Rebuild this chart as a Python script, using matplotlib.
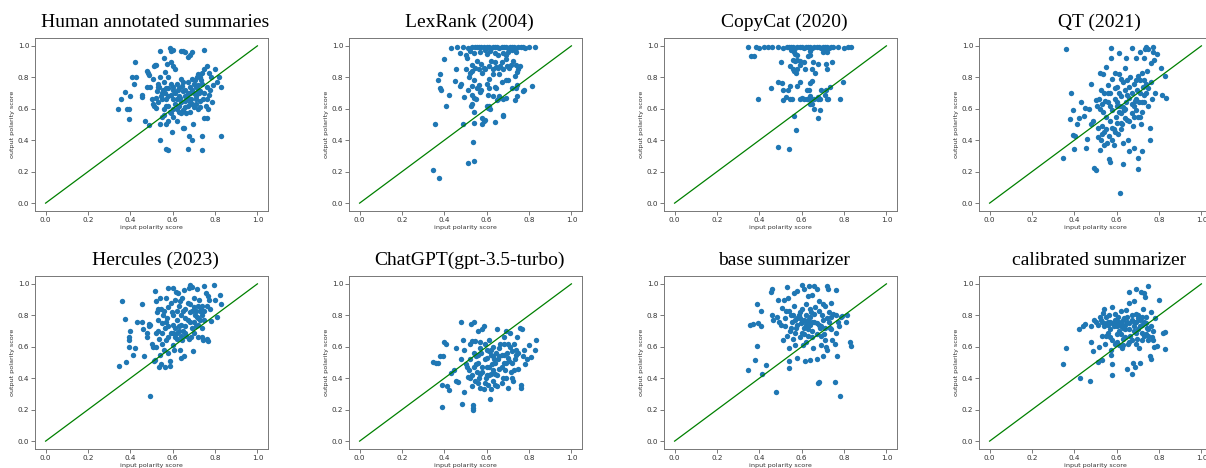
import matplotlib
matplotlib.use("Agg")
import matplotlib.pyplot as plt

# --- data: (input polarity, output polarity) -----------------------------------

TITLES = ["Human annotated summaries", "LexRank (2004)", "CopyCat (2020)", "QT (2021)",
          "Hercules (2023)", "ChatGPT(gpt-3.5-turbo)", "base summarizer", "calibrated summarizer"]

human_pts = [
    (0.343, 0.596), (0.357, 0.66), (0.373, 0.706), (0.383, 0.596), (0.394, 0.598), (0.394, 0.533),
    (0.398, 0.683), (0.406, 0.805), (0.417, 0.757), (0.420, 0.90), (0.428, 0.80), (0.457, 0.672),
    (0.457, 0.690), (0.468, 0.524), (0.486, 0.499), (0.48, 0.74), (0.48, 0.84), (0.485, 0.83),
    (0.49, 0.815), (0.495, 0.74), (0.50, 0.66), (0.505, 0.79), (0.51, 0.875), (0.515, 0.88),
    (0.52, 0.88), (0.505, 0.63), (0.51, 0.62), (0.52, 0.605), (0.525, 0.71), (0.53, 0.74),
    (0.535, 0.74), (0.53, 0.64), (0.54, 0.97), (0.54, 0.80), (0.54, 0.50), (0.54, 0.40),
    (0.545, 0.68), (0.55, 0.545), (0.55, 0.66), (0.555, 0.72), (0.56, 0.92), (0.56, 0.77),
    (0.565, 0.835), (0.565, 0.70), (0.57, 0.50), (0.57, 0.62), (0.57, 0.345), (0.575, 0.885),
    (0.58, 0.34), (0.58, 0.80), (0.58, 0.73), (0.58, 0.68), (0.585, 0.985), (0.585, 0.58),
    (0.59, 0.97), (0.59, 0.90), (0.59, 0.57), (0.595, 0.45), (0.60, 0.975), (0.60, 0.87),
    (0.60, 0.74), (0.60, 0.66), (0.60, 0.55), (0.61, 0.85), (0.61, 0.70), (0.62, 0.52),
    (0.62, 0.60), (0.625, 0.72), (0.63, 0.68), (0.635, 0.67), (0.64, 0.965), (0.64, 0.79),
    (0.645, 0.745), (0.65, 0.965), (0.65, 0.71), (0.65, 0.48), (0.655, 0.475), (0.66, 0.96),
    (0.66, 0.72), (0.66, 0.68), (0.665, 0.57), (0.67, 0.93), (0.67, 0.77), (0.67, 0.62),
    (0.67, 0.345), (0.675, 0.43), (0.68, 0.94), (0.68, 0.74), (0.685, 0.66), (0.69, 0.96),
    (0.69, 0.79), (0.69, 0.63), (0.69, 0.40), (0.695, 0.505), (0.70, 0.76), (0.70, 0.70),
    (0.705, 0.78), (0.71, 0.68), (0.71, 0.66), (0.715, 0.80), (0.72, 0.75), (0.72, 0.72),
    (0.72, 0.82), (0.725, 0.70), (0.73, 0.80), (0.73, 0.65), (0.735, 0.78), (0.74, 0.83),
    (0.74, 0.43), (0.74, 0.34), (0.745, 0.66), (0.75, 0.975), (0.75, 0.85), (0.75, 0.54),
    (0.755, 0.62), (0.76, 0.87), (0.76, 0.74), (0.76, 0.54), (0.765, 0.60), (0.77, 0.83),
    (0.77, 0.69), (0.775, 0.72), (0.78, 0.80), (0.785, 0.645), (0.79, 0.75), (0.80, 0.85),
    (0.81, 0.77), (0.82, 0.80), (0.83, 0.74), (0.83, 0.43),
    (0.56, 0.60), (0.58, 0.62), (0.59, 0.69), (0.60, 0.72), (0.61, 0.63), (0.62, 0.76),
    (0.63, 0.62), (0.64, 0.64), (0.65, 0.59), (0.66, 0.65), (0.67, 0.70), (0.68, 0.58),
    (0.69, 0.72), (0.70, 0.61), (0.71, 0.74), (0.72, 0.60), (0.73, 0.71), (0.74, 0.76),
    (0.75, 0.70), (0.68, 0.70), (0.55, 0.70), (0.57, 0.73), (0.53, 0.76), (0.52, 0.67),
    (0.62, 0.66), (0.64, 0.57), (0.66, 0.61), (0.63, 0.73), (0.67, 0.67), (0.71, 0.63),
    (0.58, 0.52), (0.56, 0.56), (0.60, 0.60), (0.73, 0.61), (0.76, 0.66), (0.63, 0.58),
    (0.57, 0.66), (0.59, 0.76), (0.65, 0.77), (0.68, 0.64),
]

lexrank_pts = [
    (0.43, 0.985), (0.46, 0.99), (0.49, 0.99), (0.51, 0.985), (0.53, 0.99), (0.545, 0.995),
    (0.555, 0.99), (0.565, 0.995), (0.575, 0.99), (0.585, 0.995), (0.60, 0.99), (0.61, 0.995),
    (0.62, 0.985), (0.63, 0.99), (0.64, 0.995), (0.65, 0.99), (0.66, 0.985), (0.67, 0.995),
    (0.68, 0.99), (0.69, 0.995), (0.70, 0.985), (0.71, 0.99), (0.72, 0.995), (0.73, 0.99),
    (0.74, 0.985), (0.75, 0.99), (0.76, 0.995), (0.77, 0.99), (0.78, 0.985), (0.80, 0.99),
    (0.83, 0.995),
    (0.475, 0.955), (0.50, 0.94), (0.52, 0.965), (0.54, 0.955), (0.57, 0.96), (0.59, 0.975),
    (0.615, 0.965), (0.64, 0.955), (0.655, 0.94), (0.675, 0.955), (0.70, 0.96), (0.72, 0.975),
    (0.74, 0.96), (0.60, 0.95), (0.69, 0.94),
    (0.40, 0.915), (0.455, 0.85), (0.50, 0.85), (0.505, 0.92), (0.53, 0.88), (0.53, 0.84),
    (0.545, 0.86), (0.555, 0.905), (0.565, 0.855), (0.575, 0.885), (0.585, 0.86), (0.59, 0.85),
    (0.61, 0.875), (0.62, 0.905), (0.63, 0.85), (0.645, 0.865), (0.655, 0.86), (0.665, 0.875),
    (0.675, 0.85), (0.69, 0.915), (0.695, 0.87), (0.705, 0.86), (0.715, 0.88), (0.725, 0.905),
    (0.74, 0.88), (0.75, 0.85), (0.755, 0.87), (0.745, 0.835), (0.64, 0.90), (0.67, 0.90),
    (0.38, 0.82), (0.37, 0.78), (0.45, 0.775), (0.48, 0.76), (0.515, 0.80), (0.52, 0.825),
    (0.53, 0.745), (0.54, 0.78), (0.565, 0.75), (0.60, 0.755), (0.63, 0.82), (0.67, 0.77),
    (0.69, 0.78), (0.70, 0.78), (0.735, 0.81), (0.745, 0.75), (0.74, 0.735), (0.58, 0.83),
    (0.61, 0.79), (0.66, 0.82),
    (0.38, 0.73), (0.385, 0.72), (0.42, 0.685), (0.475, 0.745), (0.495, 0.675), (0.51, 0.72),
    (0.53, 0.685), (0.54, 0.67), (0.555, 0.73), (0.57, 0.705), (0.575, 0.72), (0.605, 0.69),
    (0.61, 0.735), (0.64, 0.74), (0.645, 0.73), (0.655, 0.66), (0.66, 0.68), (0.675, 0.665),
    (0.69, 0.67), (0.72, 0.735), (0.735, 0.655), (0.745, 0.68), (0.775, 0.72), (0.77, 0.715),
    (0.815, 0.745), (0.55, 0.66), (0.63, 0.68),
    (0.41, 0.615), (0.355, 0.50), (0.49, 0.505), (0.525, 0.615), (0.53, 0.63), (0.54, 0.58),
    (0.54, 0.51), (0.58, 0.54), (0.58, 0.50), (0.585, 0.525), (0.59, 0.53), (0.60, 0.615),
    (0.605, 0.605), (0.61, 0.62), (0.615, 0.60), (0.64, 0.515), (0.65, 0.655), (0.675, 0.56),
    (0.675, 0.555),
    (0.535, 0.39), (0.51, 0.255), (0.54, 0.265), (0.345, 0.21), (0.375, 0.16),
]

copycat_pts = [
    (0.345, 0.99), (0.385, 0.99), (0.40, 0.985), (0.42, 0.99), (0.44, 0.99), (0.46, 0.99),
    (0.49, 0.99), (0.51, 0.985), (0.53, 0.99), (0.54, 0.99), (0.55, 0.995), (0.56, 0.99),
    (0.57, 0.985), (0.58, 0.99), (0.59, 0.995), (0.60, 0.99), (0.61, 0.985), (0.62, 0.99),
    (0.63, 0.995), (0.64, 0.99), (0.65, 0.985), (0.66, 0.99), (0.67, 0.995), (0.68, 0.99),
    (0.69, 0.985), (0.70, 0.99), (0.71, 0.995), (0.72, 0.99), (0.73, 0.985), (0.74, 0.99),
    (0.75, 0.995), (0.77, 0.99), (0.80, 0.985), (0.82, 0.99), (0.835, 0.995),
    (0.565, 0.96), (0.57, 0.95), (0.58, 0.94), (0.70, 0.96), (0.71, 0.97), (0.72, 0.96),
    (0.64, 0.97), (0.55, 0.975),
    (0.36, 0.935), (0.375, 0.935), (0.50, 0.895), (0.545, 0.87), (0.56, 0.91), (0.57, 0.905),
    (0.56, 0.85), (0.565, 0.84), (0.575, 0.83), (0.58, 0.85), (0.59, 0.88), (0.61, 0.895),
    (0.615, 0.85), (0.63, 0.935), (0.64, 0.94), (0.65, 0.85), (0.655, 0.90), (0.665, 0.83),
    (0.675, 0.885), (0.715, 0.885), (0.72, 0.85), (0.745, 0.895), (0.58, 0.91), (0.59, 0.905),
    (0.49, 0.77), (0.505, 0.765), (0.51, 0.72), (0.535, 0.72), (0.545, 0.745), (0.58, 0.745),
    (0.59, 0.77), (0.625, 0.72), (0.635, 0.72), (0.64, 0.765), (0.65, 0.775), (0.69, 0.72),
    (0.715, 0.72), (0.735, 0.74), (0.795, 0.77), (0.455, 0.735),
    (0.395, 0.66), (0.51, 0.655), (0.525, 0.675), (0.545, 0.665), (0.555, 0.665), (0.59, 0.665),
    (0.60, 0.67), (0.61, 0.665), (0.625, 0.66), (0.63, 0.665), (0.64, 0.68), (0.645, 0.66),
    (0.66, 0.665), (0.675, 0.675), (0.685, 0.665), (0.71, 0.685), (0.72, 0.66), (0.725, 0.665),
    (0.78, 0.66), (0.65, 0.63), (0.675, 0.665),
    (0.64, 0.63), (0.66, 0.60), (0.685, 0.59), (0.675, 0.54), (0.565, 0.555), (0.575, 0.465),
    (0.49, 0.355), (0.54, 0.345),
]

qt_pts = [
    (0.36, 0.98), (0.345, 0.29), (0.38, 0.535), (0.385, 0.70), (0.395, 0.59), (0.395, 0.435),
    (0.40, 0.345), (0.405, 0.43), (0.415, 0.505), (0.42, 0.54), (0.43, 0.64), (0.445, 0.555),
    (0.45, 0.605), (0.455, 0.35), (0.46, 0.41), (0.47, 0.60), (0.48, 0.50), (0.48, 0.755),
    (0.49, 0.52), (0.495, 0.225), (0.50, 0.21), (0.50, 0.655), (0.505, 0.62), (0.51, 0.42),
    (0.51, 0.48), (0.515, 0.665), (0.52, 0.83), (0.52, 0.335), (0.525, 0.40), (0.525, 0.72),
    (0.53, 0.63), (0.53, 0.44), (0.535, 0.82), (0.535, 0.58), (0.54, 0.45), (0.54, 0.37),
    (0.545, 0.65), (0.55, 0.865), (0.55, 0.55), (0.555, 0.38), (0.56, 0.75), (0.56, 0.70),
    (0.565, 0.43), (0.565, 0.28), (0.57, 0.26), (0.57, 0.62), (0.575, 0.985), (0.575, 0.92),
    (0.58, 0.79), (0.58, 0.48), (0.585, 0.47), (0.585, 0.37), (0.59, 0.83), (0.59, 0.66),
    (0.595, 0.55), (0.60, 0.74), (0.60, 0.51), (0.605, 0.44), (0.61, 0.955), (0.61, 0.70),
    (0.615, 0.065), (0.615, 0.62), (0.62, 0.79), (0.62, 0.57), (0.625, 0.50), (0.63, 0.38),
    (0.63, 0.25), (0.635, 0.59), (0.64, 0.86), (0.64, 0.72), (0.645, 0.92), (0.645, 0.64),
    (0.65, 0.78), (0.65, 0.53), (0.655, 0.40), (0.66, 0.33), (0.66, 0.67), (0.665, 0.80),
    (0.67, 0.985), (0.67, 0.57), (0.675, 0.49), (0.68, 0.76), (0.68, 0.35), (0.685, 0.65),
    (0.69, 0.92), (0.69, 0.59), (0.695, 0.72), (0.70, 0.29), (0.70, 0.22), (0.70, 0.81),
    (0.705, 0.64), (0.71, 0.96), (0.71, 0.55), (0.715, 0.50), (0.72, 0.83), (0.72, 0.33),
    (0.725, 0.74), (0.73, 0.92), (0.73, 0.64), (0.735, 0.98), (0.74, 0.99), (0.74, 0.70),
    (0.745, 0.84), (0.75, 0.98), (0.75, 0.62), (0.755, 0.40), (0.755, 0.48), (0.76, 0.89),
    (0.76, 0.77), (0.765, 0.66), (0.77, 0.96), (0.77, 0.99), (0.775, 0.91), (0.78, 0.70),
    (0.79, 0.95), (0.81, 0.86), (0.815, 0.69), (0.83, 0.81), (0.835, 0.67), (0.74, 0.755),
    (0.72, 0.645),
    (0.56, 0.64), (0.58, 0.59), (0.60, 0.64), (0.61, 0.58), (0.62, 0.68), (0.63, 0.61),
    (0.64, 0.54), (0.66, 0.74), (0.67, 0.70), (0.68, 0.62), (0.69, 0.78), (0.70, 0.55),
    (0.71, 0.70), (0.72, 0.58), (0.73, 0.78), (0.55, 0.47), (0.57, 0.52), (0.59, 0.45),
    (0.62, 0.47), (0.64, 0.60), (0.66, 0.52), (0.68, 0.55), (0.52, 0.60), (0.54, 0.70),
    (0.57, 0.70), (0.59, 0.73), (0.61, 0.82), (0.63, 0.77), (0.65, 0.69), (0.67, 0.63),
    (0.69, 0.66), (0.71, 0.78), (0.73, 0.69), (0.75, 0.73), (0.60, 0.62), (0.58, 0.40),
    (0.53, 0.49), (0.62, 0.51),
]

hercules_pts = [
    (0.345, 0.475), (0.36, 0.89), (0.375, 0.775), (0.38, 0.505), (0.395, 0.665), (0.395, 0.645),
    (0.395, 0.60), (0.40, 0.70), (0.415, 0.55), (0.42, 0.595), (0.43, 0.755), (0.455, 0.87),
    (0.455, 0.76), (0.46, 0.71), (0.465, 0.54), (0.48, 0.665), (0.48, 0.69), (0.49, 0.735),
    (0.49, 0.745), (0.495, 0.74), (0.495, 0.29), (0.50, 0.62), (0.505, 0.60), (0.51, 0.51),
    (0.515, 0.515), (0.515, 0.955), (0.52, 0.89), (0.52, 0.69), (0.525, 0.82), (0.53, 0.84),
    (0.53, 0.70), (0.535, 0.65), (0.535, 0.47), (0.54, 0.91), (0.54, 0.55), (0.545, 0.84),
    (0.545, 0.49), (0.55, 0.75), (0.55, 0.62), (0.555, 0.80), (0.56, 0.58), (0.565, 0.72),
    (0.565, 0.47), (0.57, 0.91), (0.57, 0.64), (0.575, 0.78), (0.58, 0.975), (0.58, 0.85),
    (0.58, 0.56), (0.585, 0.51), (0.585, 0.48), (0.59, 0.88), (0.59, 0.69), (0.595, 0.82),
    (0.60, 0.975), (0.60, 0.74), (0.60, 0.61), (0.605, 0.58), (0.61, 0.90), (0.61, 0.66),
    (0.615, 0.95), (0.62, 0.83), (0.62, 0.77), (0.625, 0.94), (0.63, 0.73), (0.63, 0.70),
    (0.635, 0.89), (0.635, 0.58), (0.64, 0.80), (0.64, 0.53), (0.645, 0.91), (0.645, 0.64),
    (0.65, 0.70), (0.655, 0.96), (0.655, 0.54), (0.66, 0.84), (0.665, 0.67), (0.67, 0.77),
    (0.675, 0.975), (0.675, 0.65), (0.68, 0.99), (0.68, 0.87), (0.685, 0.66), (0.69, 0.98),
    (0.69, 0.83), (0.695, 0.575), (0.70, 0.91), (0.70, 0.76), (0.705, 0.80), (0.71, 0.83),
    (0.715, 0.97), (0.715, 0.79), (0.72, 0.86), (0.72, 0.66), (0.725, 0.90), (0.73, 0.77),
    (0.735, 0.84), (0.74, 0.72), (0.74, 0.66), (0.745, 0.64), (0.75, 0.985), (0.75, 0.83),
    (0.755, 0.94), (0.76, 0.86), (0.76, 0.65), (0.765, 0.92), (0.765, 0.635), (0.77, 0.90),
    (0.775, 0.84), (0.78, 0.765), (0.795, 0.99), (0.80, 0.895), (0.81, 0.79), (0.825, 0.93),
    (0.83, 0.875),
    (0.58, 0.73), (0.60, 0.80), (0.62, 0.69), (0.64, 0.74), (0.66, 0.73), (0.68, 0.76),
    (0.70, 0.69), (0.72, 0.78), (0.74, 0.80), (0.56, 0.83), (0.58, 0.66), (0.63, 0.86),
    (0.65, 0.83), (0.67, 0.88), (0.69, 0.72), (0.71, 0.73), (0.73, 0.83), (0.75, 0.77),
    (0.55, 0.69), (0.61, 0.72), (0.66, 0.78), (0.68, 0.82), (0.70, 0.85), (0.62, 0.65),
    (0.60, 0.69), (0.57, 0.76), (0.53, 0.77), (0.52, 0.60), (0.64, 0.67), (0.66, 0.69),
    (0.72, 0.74), (0.74, 0.86),
]

chatgpt_pts = [
    (0.345, 0.505), (0.36, 0.495), (0.37, 0.495), (0.38, 0.54), (0.39, 0.36), (0.39, 0.215),
    (0.395, 0.54), (0.40, 0.63), (0.41, 0.62), (0.415, 0.35), (0.42, 0.325), (0.43, 0.435),
    (0.445, 0.455), (0.455, 0.595), (0.455, 0.38), (0.465, 0.375), (0.48, 0.755), (0.48, 0.52),
    (0.485, 0.235), (0.49, 0.645), (0.495, 0.31), (0.495, 0.58), (0.50, 0.49), (0.505, 0.47),
    (0.51, 0.41), (0.515, 0.45), (0.52, 0.62), (0.52, 0.40), (0.525, 0.745), (0.53, 0.635),
    (0.53, 0.35), (0.535, 0.23), (0.535, 0.21), (0.535, 0.195), (0.54, 0.76), (0.54, 0.47),
    (0.545, 0.635), (0.545, 0.38), (0.55, 0.54), (0.555, 0.44), (0.56, 0.70), (0.56, 0.50),
    (0.565, 0.40), (0.57, 0.59), (0.57, 0.34), (0.575, 0.56), (0.58, 0.71), (0.58, 0.44),
    (0.585, 0.735), (0.585, 0.33), (0.59, 0.62), (0.59, 0.52), (0.595, 0.40), (0.60, 0.58),
    (0.60, 0.47), (0.605, 0.36), (0.61, 0.64), (0.61, 0.42), (0.615, 0.265), (0.62, 0.55),
    (0.62, 0.33), (0.625, 0.49), (0.63, 0.60), (0.63, 0.38), (0.635, 0.52), (0.64, 0.43),
    (0.645, 0.56), (0.65, 0.71), (0.65, 0.35), (0.655, 0.52), (0.66, 0.46), (0.665, 0.62),
    (0.67, 0.55), (0.675, 0.40), (0.68, 0.66), (0.68, 0.50), (0.685, 0.45), (0.69, 0.70),
    (0.695, 0.56), (0.70, 0.335), (0.70, 0.62), (0.705, 0.51), (0.71, 0.69), (0.715, 0.44),
    (0.72, 0.57), (0.725, 0.38), (0.73, 0.62), (0.735, 0.52), (0.74, 0.55), (0.745, 0.66),
    (0.75, 0.46), (0.755, 0.72), (0.76, 0.36), (0.76, 0.34), (0.765, 0.71), (0.77, 0.54),
    (0.775, 0.58), (0.78, 0.49), (0.79, 0.52), (0.80, 0.61), (0.81, 0.535), (0.83, 0.58),
    (0.835, 0.645),
    (0.56, 0.55), (0.58, 0.47), (0.60, 0.53), (0.62, 0.58), (0.64, 0.50), (0.66, 0.54),
    (0.68, 0.55), (0.70, 0.53), (0.72, 0.50), (0.74, 0.58), (0.57, 0.43), (0.59, 0.37),
    (0.61, 0.47), (0.63, 0.45), (0.65, 0.42), (0.67, 0.47), (0.69, 0.40), (0.71, 0.60),
    (0.73, 0.45), (0.75, 0.56), (0.55, 0.49), (0.57, 0.63), (0.61, 0.57), (0.66, 0.59),
    (0.68, 0.62), (0.63, 0.54), (0.52, 0.52), (0.54, 0.56), (0.69, 0.50), (0.64, 0.36),
    (0.72, 0.40), (0.60, 0.42), (0.53, 0.42), (0.56, 0.37), (0.62, 0.43), (0.67, 0.37),
]

base_pts = [
    (0.345, 0.455), (0.355, 0.74), (0.37, 0.745), (0.38, 0.515), (0.39, 0.87), (0.39, 0.605),
    (0.395, 0.75), (0.41, 0.83), (0.41, 0.735), (0.415, 0.43), (0.43, 0.485), (0.455, 0.95),
    (0.46, 0.80), (0.46, 0.97), (0.465, 0.77), (0.48, 0.31), (0.485, 0.79), (0.49, 0.895),
    (0.495, 0.755), (0.50, 0.74), (0.505, 0.845), (0.51, 0.64), (0.515, 0.90), (0.52, 0.78),
    (0.525, 0.825), (0.53, 0.98), (0.53, 0.67), (0.535, 0.91), (0.54, 0.59), (0.54, 0.51),
    (0.54, 0.465), (0.545, 0.70), (0.55, 0.80), (0.555, 0.76), (0.56, 0.65), (0.565, 0.94),
    (0.565, 0.86), (0.57, 0.61), (0.575, 0.72), (0.58, 0.955), (0.58, 0.53), (0.585, 0.80),
    (0.59, 0.78), (0.595, 0.75), (0.60, 0.99), (0.60, 0.69), (0.605, 0.61), (0.61, 0.97),
    (0.61, 0.77), (0.615, 0.51), (0.62, 0.87), (0.625, 0.76), (0.63, 0.92), (0.63, 0.67),
    (0.635, 0.985), (0.64, 0.515), (0.64, 0.74), (0.645, 0.82), (0.65, 0.93), (0.65, 0.66),
    (0.655, 0.59), (0.66, 0.985), (0.665, 0.85), (0.67, 0.97), (0.67, 0.52), (0.675, 0.37),
    (0.68, 0.375), (0.68, 0.89), (0.685, 0.72), (0.69, 0.61), (0.695, 0.80), (0.70, 0.54),
    (0.705, 0.68), (0.71, 0.86), (0.715, 0.60), (0.72, 0.985), (0.72, 0.58), (0.725, 0.97),
    (0.73, 0.82), (0.735, 0.72), (0.74, 0.88), (0.745, 0.64), (0.75, 0.81), (0.755, 0.375),
    (0.755, 0.62), (0.76, 0.96), (0.76, 0.69), (0.765, 0.54), (0.77, 0.76), (0.775, 0.73),
    (0.78, 0.29), (0.785, 0.79), (0.79, 0.795), (0.81, 0.76), (0.815, 0.80), (0.83, 0.63),
    (0.835, 0.605),
    (0.57, 0.77), (0.58, 0.74), (0.59, 0.82), (0.60, 0.76), (0.61, 0.72), (0.62, 0.80),
    (0.63, 0.77), (0.64, 0.79), (0.65, 0.76), (0.66, 0.81), (0.67, 0.75), (0.68, 0.83),
    (0.69, 0.73), (0.70, 0.77), (0.71, 0.72), (0.72, 0.78), (0.73, 0.76), (0.74, 0.79),
    (0.56, 0.80), (0.55, 0.72), (0.57, 0.69), (0.59, 0.66), (0.61, 0.68), (0.63, 0.71),
    (0.65, 0.70), (0.67, 0.68), (0.69, 0.67), (0.71, 0.64), (0.74, 0.71), (0.60, 0.84),
    (0.66, 0.76), (0.62, 0.74), (0.58, 0.78), (0.64, 0.84), (0.68, 0.74), (0.70, 0.87),
    (0.52, 0.73), (0.54, 0.83), (0.76, 0.80), (0.62, 0.63),
]

calibrated_pts = [
    (0.345, 0.49), (0.36, 0.595), (0.42, 0.71), (0.425, 0.40), (0.44, 0.735), (0.45, 0.745),
    (0.475, 0.385), (0.48, 0.63), (0.48, 0.73), (0.49, 0.57), (0.495, 0.77), (0.50, 0.755),
    (0.51, 0.505), (0.51, 0.74), (0.515, 0.60), (0.52, 0.79), (0.525, 0.77), (0.53, 0.515),
    (0.53, 0.67), (0.535, 0.815), (0.54, 0.84), (0.54, 0.73), (0.545, 0.62), (0.55, 0.79),
    (0.55, 0.67), (0.555, 0.745), (0.56, 0.755), (0.565, 0.80), (0.57, 0.66), (0.575, 0.58),
    (0.575, 0.545), (0.58, 0.85), (0.58, 0.49), (0.58, 0.42), (0.585, 0.73), (0.59, 0.81),
    (0.59, 0.62), (0.595, 0.74), (0.60, 0.76), (0.60, 0.68), (0.605, 0.79), (0.61, 0.61),
    (0.615, 0.74), (0.62, 0.83), (0.62, 0.73), (0.625, 0.59), (0.63, 0.65), (0.635, 0.78),
    (0.64, 0.71), (0.645, 0.835), (0.65, 0.76), (0.65, 0.46), (0.655, 0.62), (0.66, 0.95),
    (0.66, 0.88), (0.665, 0.67), (0.67, 0.80), (0.67, 0.43), (0.675, 0.50), (0.68, 0.89),
    (0.68, 0.76), (0.685, 0.47), (0.69, 0.965), (0.69, 0.81), (0.695, 0.65), (0.70, 0.78),
    (0.70, 0.71), (0.705, 0.59), (0.71, 0.50), (0.715, 0.95), (0.72, 0.74), (0.725, 0.84),
    (0.73, 0.94), (0.73, 0.67), (0.735, 0.915), (0.74, 0.79), (0.745, 0.72), (0.75, 0.985),
    (0.75, 0.64), (0.755, 0.54), (0.76, 0.82), (0.76, 0.52), (0.765, 0.66), (0.77, 0.70),
    (0.775, 0.60), (0.78, 0.785), (0.79, 0.605), (0.80, 0.895), (0.82, 0.69), (0.83, 0.695),
    (0.83, 0.585),
    (0.53, 0.76), (0.54, 0.75), (0.56, 0.74), (0.57, 0.76), (0.58, 0.75), (0.59, 0.77),
    (0.60, 0.73), (0.61, 0.76), (0.62, 0.75), (0.63, 0.77), (0.64, 0.74), (0.65, 0.79),
    (0.66, 0.75), (0.67, 0.77), (0.68, 0.73), (0.69, 0.76), (0.70, 0.80), (0.71, 0.77),
    (0.72, 0.79), (0.73, 0.76), (0.74, 0.75), (0.57, 0.71), (0.61, 0.70), (0.63, 0.72),
    (0.66, 0.71), (0.68, 0.70), (0.71, 0.73), (0.72, 0.69), (0.74, 0.68), (0.75, 0.71),
    (0.76, 0.73), (0.62, 0.68), (0.64, 0.66), (0.67, 0.64), (0.69, 0.62), (0.60, 0.63),
    (0.58, 0.64), (0.56, 0.69), (0.63, 0.61), (0.66, 0.63), (0.69, 0.69), (0.72, 0.64),
    (0.75, 0.67), (0.77, 0.64),
]

PANELS = [human_pts, lexrank_pts, copycat_pts, qt_pts,
          hercules_pts, chatgpt_pts, base_pts, calibrated_pts]

DIAG = [0.0, 1.0]
TICKS = [0.0, 0.2, 0.4, 0.6, 0.8, 1.0]

# --- layout (pixels of the 1206x468 canvas) ----------------------------------
W, H = 1206, 468
COL_LEFT = [35, 349, 664, 979]
ROW_TOP = [38, 276]
AX_W, AX_H = 233, 173

fig = plt.figure(figsize=(W / 100, H / 100), dpi=100)

for i, (title, pts) in enumerate(zip(TITLES, PANELS)):
    r, c = divmod(i, 4)
    left = COL_LEFT[c] / W
    bottom = (H - ROW_TOP[r] - AX_H) / H
    ax = fig.add_axes([left, bottom, AX_W / W, AX_H / H])

    xs = [p[0] for p in pts]
    ys = [p[1] for p in pts]
    ax.scatter(xs, ys, s=15, color="#1f77b4", linewidths=0, zorder=2)
    ax.plot(DIAG, DIAG, color="green", linewidth=0.9, zorder=3)

    ax.set_xlim(-0.05, 1.05)
    ax.set_ylim(-0.05, 1.05)
    ax.set_xticks(TICKS)
    ax.set_yticks(TICKS)
    ax.tick_params(labelsize=5.2, length=3, width=0.5, pad=1.2,
                   colors="#444444", labelcolor="#333333")
    for sp in ax.spines.values():
        sp.set_color("#777777")
        sp.set_linewidth(0.7)
    ax.set_xlabel("input polarity score", fontsize=4.6, color="#333333", labelpad=1.5)
    ax.set_ylabel("output polarity score", fontsize=4.6, color="#333333", labelpad=2)
    ax.set_title(title, fontsize=14, family="Liberation Serif", pad=8, x=0.517)

fig.savefig("out.png", dpi=100)
